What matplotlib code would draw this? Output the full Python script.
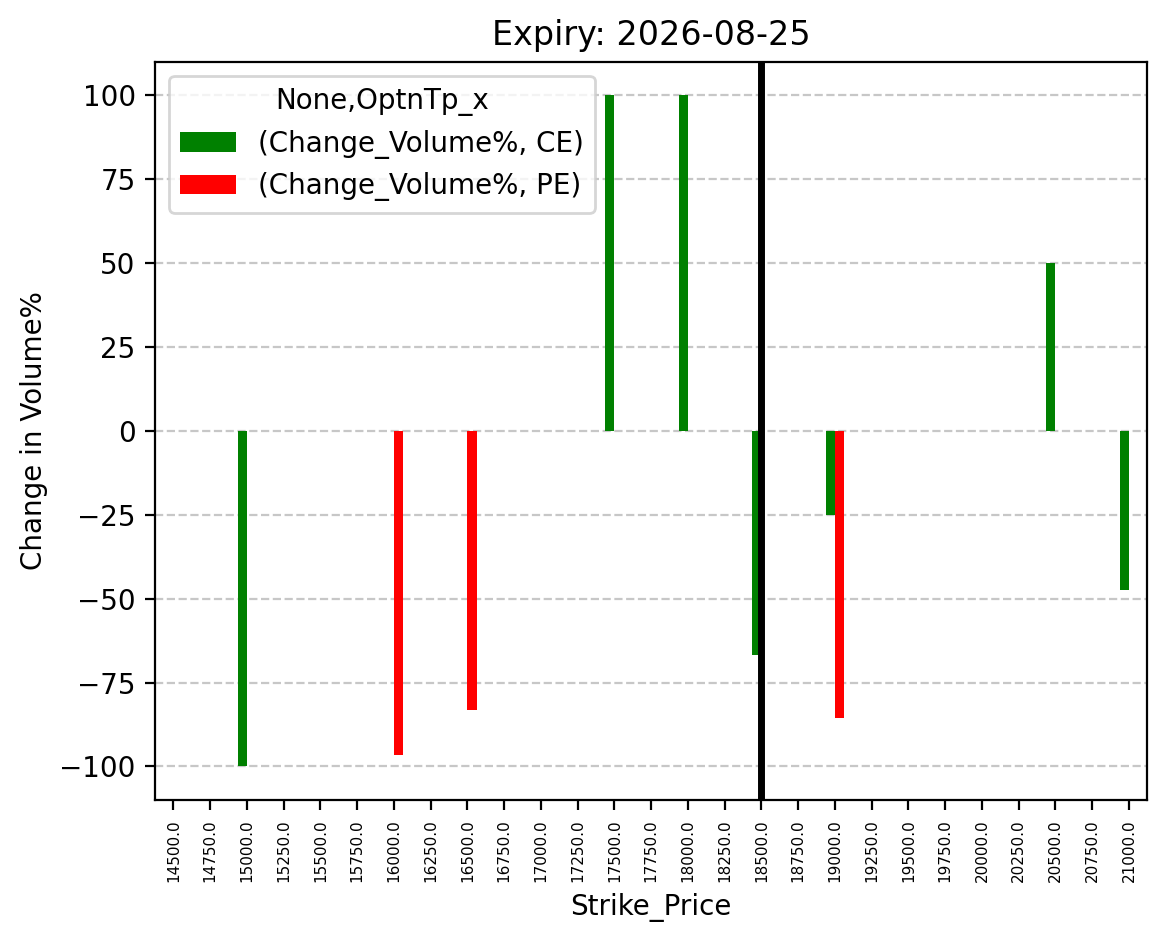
import numpy as np
import matplotlib
matplotlib.use("Agg")
import matplotlib.pyplot as plt

# Strike prices (categories on the x axis)
strikes = [14500 + 250 * i for i in range(27)]
nan = np.nan

# Change in volume % per strike, CE and PE
ce_change = [nan, nan, -100, nan, nan, nan, nan, nan, nan, nan, nan, nan, 100, nan,
             100, nan, -66.7, nan, -25, nan, nan, nan, nan, nan, 50, nan, -47.5]
pe_change = [nan, nan, nan, nan, nan, nan, -96.6, nan, -83.2, nan, nan, nan, nan, nan,
             nan, nan, nan, nan, -85.7, nan, nan, nan, nan, nan, nan, nan, nan]

spot_strike = 18500
expiry = "2026-08-25"

fig = plt.figure(figsize=(5.83, 4.745), dpi=200)
ax = fig.add_axes([0.133, 0.157, 0.851, 0.778])

pos = np.arange(len(strikes))
w = 0.25
ax.bar(pos - w / 2, ce_change, width=w, color="green", label="(Change_Volume%, CE)")
ax.bar(pos + w / 2, pe_change, width=w, color="red", label="(Change_Volume%, PE)")

ax.set_xticks(pos)
ax.set_xticklabels([f"{s:.1f}" for s in strikes], rotation=90, fontsize=5.5)
ax.set_xlim(-0.5, len(strikes) - 0.5)

ax.axvline(strikes.index(spot_strike), color="black", linewidth=2.5)
ax.grid(axis="y", linestyle="--", alpha=0.7)
ax.set_axisbelow(True)

ax.set_title(f"Expiry: {expiry}")
ax.set_xlabel("Strike_Price")
ax.set_ylabel("Change in Volume%")
ax.legend(title="None,OptnTp_x", loc="upper left")

fig.savefig("out.png", dpi=200)
